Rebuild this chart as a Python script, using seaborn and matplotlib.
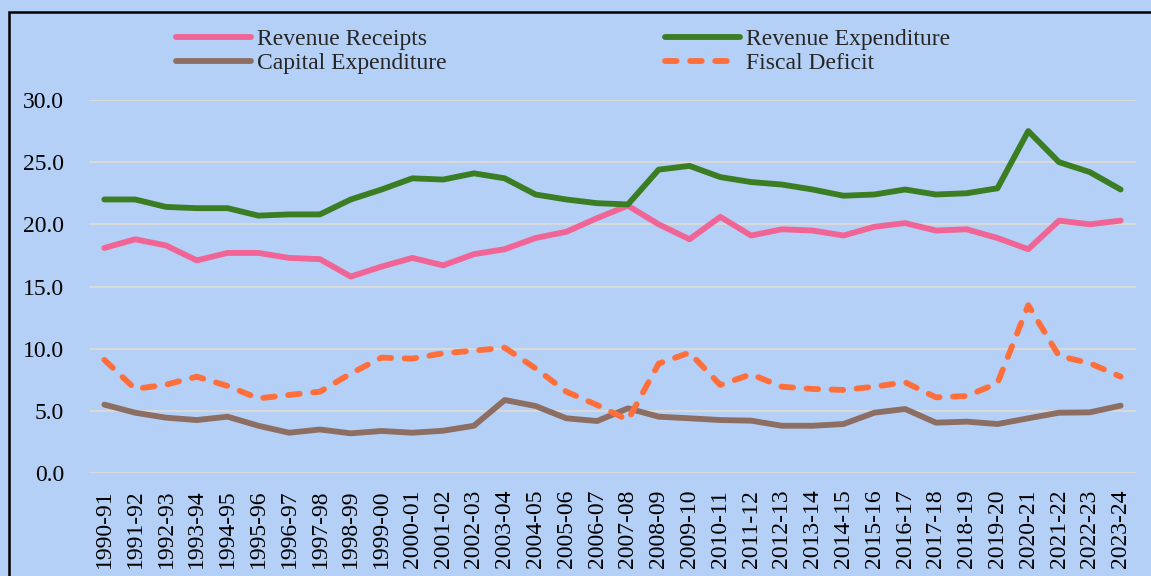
import pandas as pd
import seaborn as sns
import matplotlib.pyplot as plt
from matplotlib.patches import Rectangle

# fiscal years
years = ["1990-91", "1991-92", "1992-93", "1993-94", "1994-95", "1995-96", "1996-97",
         "1997-98", "1998-99", "1999-00", "2000-01", "2001-02", "2002-03", "2003-04",
         "2004-05", "2005-06", "2006-07", "2007-08", "2008-09", "2009-10", "2010-11",
         "2011-12", "2012-13", "2013-14", "2014-15", "2015-16", "2016-17", "2017-18",
         "2018-19", "2019-20", "2020-21", "2021-22", "2022-23", "2023-24"]

# series values (% of GDP)
revenue_receipts = [18.1, 18.8, 18.3, 17.1, 17.7, 17.7, 17.3, 17.2, 15.8, 16.6,
                    17.3, 16.7, 17.6, 18.0, 18.9, 19.4, 20.5, 21.5, 20.0, 18.8,
                    20.6, 19.1, 19.6, 19.5, 19.1, 19.8, 20.1, 19.5, 19.6, 18.9,
                    18.0, 20.3, 20.0, 20.3]
revenue_expenditure = [22.0, 22.0, 21.4, 21.3, 21.3, 20.7, 20.8, 20.8, 22.0, 22.8,
                       23.7, 23.6, 24.1, 23.7, 22.4, 22.0, 21.7, 21.6, 24.4, 24.7,
                       23.8, 23.4, 23.2, 22.8, 22.3, 22.4, 22.8, 22.4, 22.5, 22.9,
                       27.5, 25.0, 24.2, 22.8]
capital_expenditure = [5.5, 4.85, 4.45, 4.26, 4.53, 3.8, 3.24, 3.5, 3.19, 3.38,
                       3.24, 3.4, 3.8, 5.87, 5.39, 4.4, 4.18, 5.2, 4.53, 4.4,
                       4.26, 4.21, 3.8, 3.8, 3.94, 4.85, 5.15, 4.05, 4.13, 3.94,
                       4.4, 4.85, 4.88, 5.42]
fiscal_deficit = [9.1, 6.76, 7.1, 7.75, 7.0, 6.0, 6.28, 6.54, 8.0, 9.28,
                  9.2, 9.63, 9.84, 10.08, 8.42, 6.54, 5.47, 4.26, 8.8, 9.68,
                  7.08, 7.94, 6.94, 6.76, 6.68, 6.94, 7.3, 6.09, 6.19, 7.22,
                  13.5, 9.41, 8.83, 7.75]

bg = "#B4D0F6"
sns.set_theme(style="white")
plt.rcParams["font.family"] = ["Liberation Serif", "DejaVu Serif"]

fig = plt.figure(figsize=(11.51, 5.76), dpi=100, facecolor=bg)
ax = fig.add_axes([0.0773, 0.1788, 0.9097, 0.6476])
ax.set_facecolor(bg)

df = pd.DataFrame({"Year": years,
                   "Revenue Receipts": revenue_receipts,
                   "Revenue Expenditure": revenue_expenditure,
                   "Capital Expenditure": capital_expenditure,
                   "Fiscal Deficit": fiscal_deficit})

styles = {
    "Revenue Receipts": dict(color="#F06595", linestyle="-"),
    "Revenue Expenditure": dict(color="#3A7D22", linestyle="-"),
    "Capital Expenditure": dict(color="#8D6E63", linestyle="-"),
    "Fiscal Deficit": dict(color="#FF6F3C", linestyle=(0, (2, 2.3))),
}
for name, st in styles.items():
    sns.lineplot(data=df, x="Year", y=name, ax=ax, sort=False, lw=4.2,
                 solid_capstyle="round", dash_capstyle="round", label=name, **st)

ax.set_ylim(0, 30)
ax.set_xlim(-0.5, len(years) - 0.5)
ax.set_yticks([0, 5, 10, 15, 20, 25, 30])
ax.set_yticklabels([f"{v:.1f}" for v in ax.get_yticks()])
ax.set_xticks(range(len(years)))
ax.set_xticklabels(years, rotation=90)
ax.set_xlabel("")
ax.set_ylabel("")
ax.grid(axis="y", color="#D9D9D9", lw=1.5)
ax.grid(axis="x", visible=False)
for s in ax.spines.values():
    s.set_visible(False)
ax.tick_params(axis="y", length=0, pad=18, labelsize=17, colors="black")
ax.tick_params(axis="x", length=0, pad=12, labelsize=17, colors="black")

# legend in two separate columns
h, l = ax.get_legend_handles_labels()
ax.get_legend().remove()
kw = dict(frameon=False, fontsize=17, handlelength=3.2, handletextpad=0.25,
          labelspacing=0.1, borderpad=0, loc="upper left")
leg1 = fig.legend([h[0], h[2]], [l[0], l[2]], bbox_to_anchor=(164 / 1151, 1 - 17 / 576), **kw)
leg2 = fig.legend([h[1], h[3]], [l[1], l[3]], bbox_to_anchor=(653 / 1151, 1 - 17 / 576), **kw)

# outer frame
fig.patches.append(Rectangle((9 / 1151, -0.1), 1.2, 1.1 - 12 / 576, transform=fig.transFigure,
                             fill=False, edgecolor="black", lw=1.8, clip_on=False))

fig.savefig("out.png", dpi=100, facecolor=bg)
